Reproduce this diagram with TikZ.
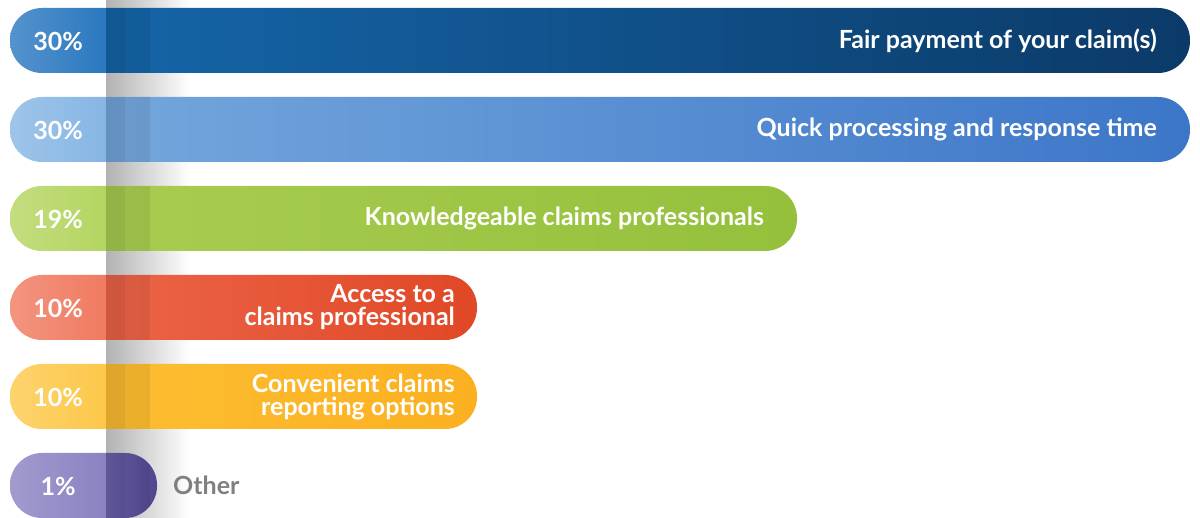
\documentclass[tikz,border=0pt]{standalone}
\usepackage{fontspec}
\setmainfont{Lato}
\begin{document}
\begin{tikzpicture}[x=1pt,y=-1pt,
 lab/.style={font=\bfseries\fontsize{25}{23}\selectfont,text=white,align=right,inner sep=0pt},
 pct/.style={font=\bfseries\fontsize{25}{25}\selectfont,text=white,inner sep=0pt}]
\definecolor{b1a}{HTML}{2A78C0}\definecolor{b1b}{HTML}{1565A8}\definecolor{b1c}{HTML}{0B3A68}
\definecolor{b2a}{HTML}{86B6E4}\definecolor{b2b}{HTML}{74A6DC}\definecolor{b2c}{HTML}{3C76C8}
\definecolor{b3a}{HTML}{B4D560}\definecolor{b3b}{HTML}{A9CC50}\definecolor{b3c}{HTML}{94C03C}
\definecolor{b4a}{HTML}{F07A60}\definecolor{b4b}{HTML}{EC6448}\definecolor{b4c}{HTML}{E04826}
\definecolor{b5a}{HTML}{FDC84A}\definecolor{b5b}{HTML}{FDBE32}\definecolor{b5c}{HTML}{FBB020}
\definecolor{b6a}{HTML}{8A82C2}\definecolor{b6b}{HTML}{6E64AE}\definecolor{b6c}{HTML}{4E468E}
\fill[white] (0,0) rectangle (1200,518);
% shadow strip
\shade[left color=black!30,right color=white] (106,0) rectangle (190,518);
\foreach \t/\r/\ca/\cb/\cc/\n in {8/1190/b1a/b1b/b1c/1,97/1190/b2a/b2b/b2c/2,186/797/b3a/b3b/b3c/3,275/477/b4a/b4b/b4c/4,364/477/b5a/b5b/b5c/5,453/157/b6a/b6b/b6c/6}{
  \begin{scope}
  \clip[rounded corners=32pt] (10,\t) rectangle (\r,\t+65);
  \shade[left color=\ca!80!white,right color=\ca] (10,\t) rectangle (106,\t+65);
  \shade[left color=\cb,right color=\cc] (106,\t) rectangle (\r,\t+65);
  \shade[left color=black,right color=black,middle color=black,opacity=0] (106,\t) rectangle (110,\t+65);
  \fill[black,opacity=0.12] (106,\t) rectangle (125,\t+65);
  \fill[black,opacity=0.07] (125,\t) rectangle (150,\t+65);
  \end{scope}
  \coordinate (bar\n) at (\r,\t+32.5);
  \coordinate (p\n) at (58,\t+33);
}
\node[pct] (q1) at (p1) {30\%};
\node[pct] (q2) at (p2) {30\%};
\node[pct] (q3) at (p3) {19\%};
\node[pct] (q4) at (p4) {10\%};
\node[pct] (q5) at (p5) {10\%};
\node[pct] (q6) at (p6) {1\%};
\node[lab,anchor=east] (l1) at ([xshift=-33]bar1) {Fair payment of your claim(s)};
\node[lab,anchor=east] (l2) at ([xshift=-33]bar2) {Quick processing and response time};
\node[lab,anchor=east] (l3) at ([xshift=-33]bar3) {Knowledgeable claims professionals};
\node[lab,anchor=east] (l4) at ([xshift=-22]bar4) {Access to a\\claims professional};
\node[lab,anchor=east] (l5) at ([xshift=-22]bar5) {Convenient claims\\reporting options};
\node[lab,anchor=west,text=black!50] (l6) at ([xshift=16]bar6) {Other};
\end{tikzpicture}
\end{document}
